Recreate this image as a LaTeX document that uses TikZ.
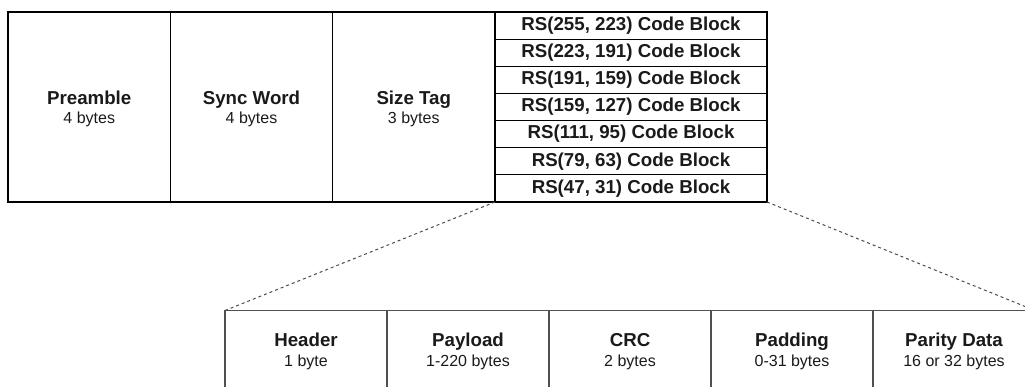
\documentclass[tikz,border=0pt]{standalone}
\usepackage{fontspec}
\setmainfont{Liberation Sans}
\definecolor{txt}{HTML}{1A1A1A}
\definecolor{lowline}{HTML}{505050}
\begin{document}
\begin{tikzpicture}[x=1pt,y=-1pt,
  field/.style={draw=black,line width=1.2pt,rectangle,inner sep=0pt,outer sep=0pt,
    anchor=north west,align=center,text=txt,font=\fontsize{16}{19.5}\selectfont},
  topfield/.style={field,minimum width=162.5pt,minimum height=190pt},
  rsrow/.style={field,minimum width=272pt,minimum height=27.143pt,font=\fontsize{18.7}{20}\selectfont\bfseries},
  lowfield/.style={field,draw=lowline,line width=1.4pt,minimum width=162pt,minimum height=84pt},
  dashconn/.style={draw=black!70,line width=1pt,dash pattern=on 3pt off 3pt}
]
\useasboundingbox (0,0) rectangle (1025,387);
\clip (0,0) rectangle (1025,387);
\newcommand{\ttl}[1]{{\fontsize{18.7}{19.5}\selectfont\bfseries #1\strut}}
\newcommand{\ttltop}[1]{{\fontsize{18.7}{19.5}\selectfont\bfseries\rule{0pt}{19.5pt}#1\strut}}
\newcommand{\sub}[1]{#1\strut}
% top row
\node[topfield] (pre) at (8,12) {\ttltop{Preamble}\\\sub{4 bytes}};
\node[topfield,minimum width=162pt] (sync) at (170.5,12) {\ttltop{Sync Word}\\\sub{4 bytes}};
\node[topfield,minimum width=162.5pt] (size) at (332.5,12) {\ttltop{Size Tag}\\\sub{3 bytes}};
% RS stack
\node[rsrow] (rs1) at (495,12) {RS(255, 223) Code Block};
\node[rsrow] (rs2) at (495,39.143) {RS(223, 191) Code Block};
\node[rsrow] (rs3) at (495,66.286) {RS(191, 159) Code Block};
\node[rsrow] (rs4) at (495,93.429) {RS(159, 127) Code Block};
\node[rsrow] (rs5) at (495,120.571) {RS(111, 95) Code Block};
\node[rsrow] (rs6) at (495,147.714) {RS(79, 63) Code Block};
\node[rsrow] (rs7) at (495,174.857) {RS(47, 31) Code Block};
% bottom row
\node[lowfield] (hdr) at (225,310.5) {\ttl{Header}\\\sub{1 byte}};
\node[lowfield] (pay) at (387,310.5) {\ttl{Payload}\\\sub{1-220 bytes}};
\node[lowfield] (crc) at (549,310.5) {\ttl{CRC}\\\sub{2 bytes}};
\node[lowfield] (pad) at (711,310.5) {\ttl{Padding}\\\sub{0-31 bytes}};
\node[lowfield] (par) at (873,310.5) {\ttl{Parity Data}\\\sub{16 or 32 bytes}};
% zoom connectors
\draw[dashconn] (rs7.south west) -- (hdr.north west);
\draw[dashconn] (rs7.south east) -- (par.north east);
\end{tikzpicture}
\end{document}
